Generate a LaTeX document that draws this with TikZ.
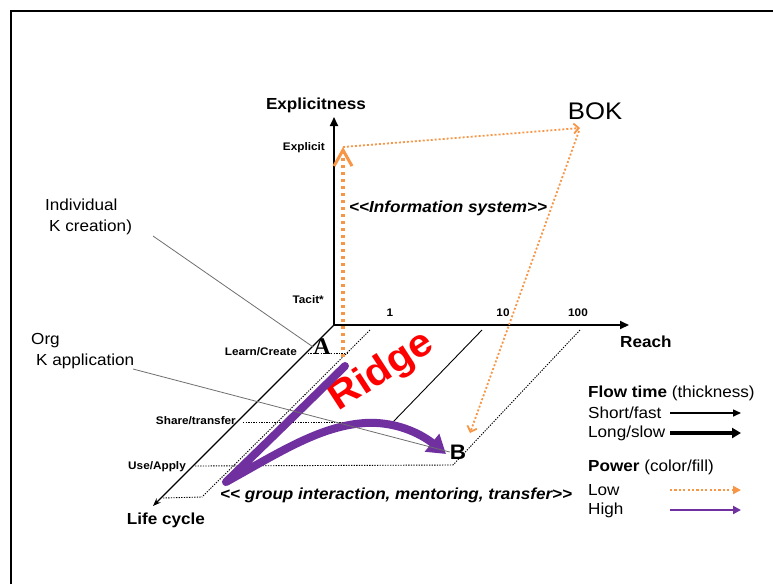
\documentclass[tikz,border=0pt]{standalone}
\usepackage{fontspec}
\setmainfont[FakeStretch=1.07]{Liberation Sans}
\newfontfamily\serifA{Liberation Serif}
\usetikzlibrary{arrows.meta}
\definecolor{korange}{RGB}{247,150,70}
\definecolor{kpurple}{RGB}{112,48,160}
\definecolor{kgray}{RGB}{110,110,110}
\begin{document}
\begin{tikzpicture}[x=1pt,y=-1pt,
  lbl/.style={font=\fontsize{16}{21}\selectfont, inner sep=0pt},
  axlbl/.style={font=\bfseries\fontsize{16}{19}\selectfont, inner sep=0pt},
  tick/.style={font=\bfseries\fontsize{11}{12}\selectfont, inner sep=0pt},
  ital/.style={font=\bfseries\itshape\fontsize{16}{18}\selectfont, inner sep=0pt},
  axis/.style={black, line width=1.8pt, -{Triangle[length=9pt,width=8pt]}},
  gridline/.style={black, line width=0.9pt, dash pattern=on 1.3pt off 1.3pt},
  gridsolid/.style={black, line width=0.9pt},
  leader/.style={kgray, line width=0.8pt},
  lowthick/.style={korange, line width=3.5pt, dash pattern=on 3.5pt off 3.5pt},
  lowthin/.style={korange, line width=1.8pt, dash pattern=on 2pt off 2pt},
  high/.style={kpurple, line width=8pt, line cap=round, line join=round},
]
\useasboundingbox (0,0) rectangle (773,584);
% frame
\draw[line width=2pt] (11,584) -- (11,10.5) -- (773,10.5);

% coordinates
\coordinate (O) at (334,325);
\coordinate (ytip) at (334,117);
\coordinate (xtip) at (629,325);
\coordinate (ztip) at (153,506);
\coordinate (t1) at (370,330);
\coordinate (t1b) at (202,497);
\coordinate (t10) at (482,330);
\coordinate (t10b) at (393,422);
\coordinate (t100) at (580,330);
\coordinate (t100b) at (453,465);
\coordinate (h1a) at (305,353);
\coordinate (h1b) at (347,353);
\coordinate (h2a) at (243,422);
\coordinate (h3a) at (195,466);
\coordinate (h4a) at (163,498);

% grid
\draw[gridline] (t1) -- (t1b);
\draw[gridsolid] (t10) -- (t10b);
\draw[gridline] (t100) -- (t100b);
\draw[gridline] (h1a) -- (h1b);
\draw[gridline] (h2a) -- (t10b);
\draw[gridline] (h3a) -- (t100b);
\draw[gridline] (h4a) -- (t1b);

% axes
\draw[axis] (O) -- (ytip);
\draw[axis] (O) -- (xtip);
\draw[black, line width=1.2pt, -{Stealth[length=8pt,width=6pt]}] (O) -- (ztip);

% axis labels
\node[axlbl] (explicitness) at (316,105) {Explicitness};
\node[axlbl, anchor=west] (reach) at (620,342) {Reach};
\node[axlbl] (lifecycle) at (166,520) {Life cycle};
\node[tick, anchor=east] (explicit) at (325,148) {Explicit};
\node[tick, anchor=east] (tacit) at (324,300) {Tacit*};
\node[tick] (n1) at (390,313) {1};
\node[tick] (n10) at (503,313) {10};
\node[tick] (n100) at (578,313) {100};
\node[tick, anchor=east] (learn) at (297,352) {Learn/Create};
\node[tick, anchor=east] (share) at (236,421) {Share/transfer};
\node[tick, anchor=east] (use) at (186,467) {Use/Apply};

% points
\node[inner sep=0pt, font=\serifA\bfseries\fontsize{24}{24}\selectfont] (A) at (322,347) {A};
\node[inner sep=0pt, font=\bfseries\fontsize{21}{21}\selectfont] (B) at (458,452) {B};
\node[inner sep=0pt, font=\fontsize{24}{24}\selectfont] (BOK) at (595,111) {BOK};
\coordinate (expl) at (343,147);
\coordinate (bokpt) at (580,128);
\coordinate (bokpt2) at (579,131);
\coordinate (bpt) at (470,433);
\coordinate (astart) at (343,357);

% orange arrows
\draw[lowthick, -{Straight Barb[length=16pt,width=18pt,line width=3pt]}] (astart) -- (expl);
\draw[lowthin, -{Straight Barb[length=5pt,width=10pt,line width=1.8pt]}] (expl) -- (bokpt);
\draw[lowthin, -{Straight Barb[length=5pt,width=10pt,line width=1.8pt]}] (bokpt2) -- (bpt);

% ridge text
\node[rotate=33, text=red, inner sep=0pt, font=\bfseries\fontsize{39}{39}\selectfont] (ridge) at (382,372) {Ridge};

% purple ridge arrow
\coordinate (p0) at (345,366);
\coordinate (ptip) at (226,482);
\coordinate (pmid) at (365,423);
\coordinate (pend) at (446,454);
\draw[high, -{Triangle[length=18pt,width=22pt]}] (p0) .. controls (295,415) .. (ptip)
  .. controls (280,452) and (320,426) .. (pmid)
  .. controls (400,421) and (425,437) .. (pend);

% italic labels
\node[ital, anchor=west] (infosys) at (349,208) {{<}{<}Information system{>}{>}};
\node[ital, anchor=west] (group) at (220,495) {{<}{<} group interaction, mentoring, transfer{>}{>}};

% annotations
\node[lbl, anchor=north west, align=left] (indiv) at (45,199) {Individual\\\hspace*{4pt}K creation)};
\node[lbl, anchor=north west, align=left] (org) at (31,333) {Org\\\hspace*{5pt}K application};
\coordinate (indivend) at (153,236);
\coordinate (orgend) at (133,369);
\draw[leader] (indivend) -- (A.west);
\draw[leader] (orgend) -- (B.west);

% legend
\node[lbl, anchor=west] (flow) at (588,393) {\textbf{Flow time} (thickness)};
\node[lbl, anchor=west] (short) at (588,413) {Short/fast};
\node[lbl, anchor=west] (long) at (588,433) {Long/slow};
\node[lbl, anchor=west] (power) at (588,467) {\textbf{Power} (color/fill)};
\node[lbl, anchor=west] (low) at (588,490) {Low};
\node[lbl, anchor=west] (highl) at (588,510) {High};
\coordinate (s1) at (670,413); \coordinate (s2) at (741,413);
\coordinate (l1) at (670,433); \coordinate (l2) at (741,433);
\coordinate (w1) at (670,490); \coordinate (w2) at (741,490);
\coordinate (g1) at (670,510); \coordinate (g2) at (741,510);
\draw[black, line width=1.5pt, -{Triangle[length=8pt,width=7pt]}] (s1) -- (s2);
\draw[black, line width=4pt, -{Triangle[length=9pt,width=10pt]}] (l1) -- (l2);
\draw[korange, line width=2.2pt, dash pattern=on 2.2pt off 2.2pt, -{Triangle[length=8pt,width=8pt]}] (w1) -- (w2);
\draw[kpurple, line width=2.5pt, -{Triangle[length=8pt,width=8pt]}] (g1) -- (g2);
\end{tikzpicture}
\end{document}
